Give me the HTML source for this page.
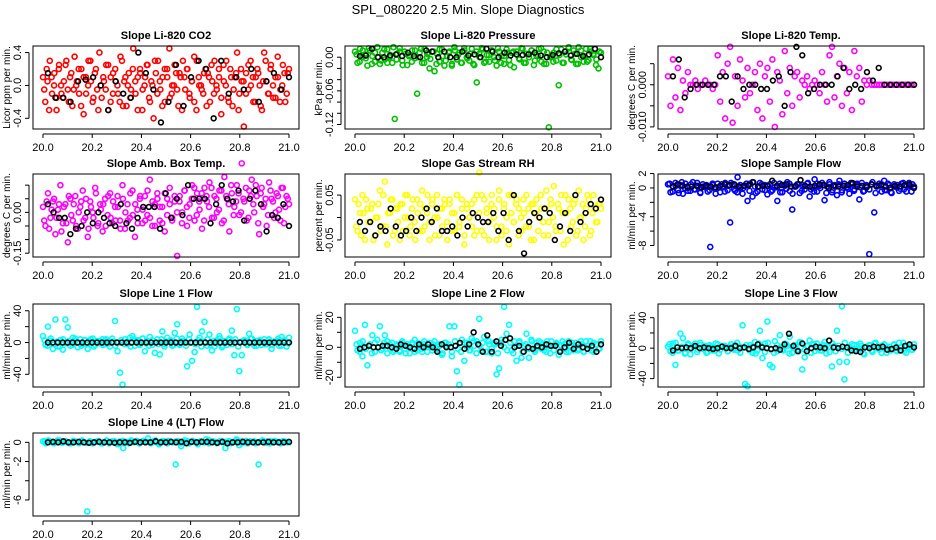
<!DOCTYPE html>
<html><head><meta charset="utf-8"><style>
body{margin:0;background:#fff}
svg{display:block;font-family:"Liberation Sans",Arial,sans-serif}
</style></head><body>
<svg id="chart" width="936" height="540" viewBox="0 0 936 540" xmlns="http://www.w3.org/2000/svg">
<text x="468" y="14" text-anchor="middle" font-size="13">SPL_080220  2.5 Min. Slope Diagnostics</text>
</svg>
<script>
const xTicks = [20.0, 20.2, 20.4, 20.6, 20.8, 21.0];
const xTickLabels = ["20.0", "20.2", "20.4", "20.6", "20.8", "21.0"];

const co2Vals = [0.1,-0.2,0.05,0.3,-0.1,0.15,-0.3,0.2,0,-0.15,0.25,-0.05,0.1,-0.25,0.35,0.05,-0.1,0.2,-0.35,0.1,0.0,0.3,-0.2,0.15,-0.05,0.4,-0.15,0.05,0.25,-0.3,0.1,-0.1,0.2,0.0,-0.2,0.3,0.05,-0.25,0.15,-0.05,0.45,-0.1,0.1,0.2,-0.3,0.0,0.25,-0.15,0.05,-0.4,0.15,0.3,-0.05,0.1,-0.2,0.2,0.45,-0.1,0.0,0.15,-0.25,0.1,0.3,-0.05,0.2,-0.15,0.05,0.35,-0.3,0.1,0.0,-0.1,0.2,0.15,-0.2,0.05,0.3,-0.05,0.1,-0.35,0.25,0.0,-0.15,0.2,-0.25,0.1,0.4,-0.1,0.05,-0.5,0.15,-0.05,0.3,0.1,-0.2,0.2,0.0,-0.3,0.4,0.05,-0.1,0.25,-0.15,0.1,0.35,-0.2,0.0,0.15,-0.1,0.2];
const co2Vals2 = [-0.05,0.2,-0.3,0.1,0.0,-0.15,0.25,-0.1,0.05,0.3,-0.2,0.15,-0.05,0.0,0.2,-0.25,0.1,-0.1,0.3,0.05,-0.15,0.2,-0.3,0.0,0.1,-0.05,0.25,-0.2,0.15,0.05,-0.1,0.35,-0.25,0.1,0.0,-0.15,0.2,0.05,-0.3,0.15,-0.05,0.1,0.25,-0.2,0.0,0.3,-0.1,0.05,-0.25,0.2,0.1,-0.15,0.0,0.25,-0.05,0.15,-0.3,0.1,0.2,-0.1,0.05,-0.2,0.3,0.0,-0.05,0.15,-0.25,0.1,0.25,-0.1,0.0,0.2,-0.15,0.05,0.3,-0.2,0.1,-0.05,0.15,-0.3,0.2,0.05,-0.1,0.25,0.0,-0.2,0.1,0.15,-0.25,0.05,0.3,-0.1,0.2,0.0,-0.15,0.1,-0.05,0.25,-0.2,0.15];
const co2Black = [0.15,-0.15,-0.15,-0.2,0.05,0.07,0.1,0.0,-0.3,0.05,-0.1,-0.15,0.4,0.15,-0.05,-0.45,-0.2,0.25,-0.25,0.1,0.3,0.2,-0.4,0.3,-0.1,0.1,-0.05,0.2,-0.2,0.05,0.15,-0.05,0.1];
const co2Ticks = [-0.4, 0.0, 0.4];
const co2TickLabels = ["-0.4", "0.0", "0.4"];

const presVals = [0.01,-0.01,0.015,0.0,0.005,-0.015,0.012,0.002,-0.008,0.018,-0.012,0.008,-0.004,0.014,0.0,-0.01,-0.11,0.006,0.016,-0.006,0.01,-0.014,0.004,0.012,-0.002,-0.065,0.008,-0.01,0.015,0.0,-0.02,0.01,-0.025,0.006,-0.008,0.014,-0.015,0.002,0.01,-0.012,0.018,-0.004,0.008,-0.01,0.012,0.0,-0.006,0.015,-0.014,-0.045,0.006,0.016,-0.01,0.004,-0.008,0.012,0.0,-0.015,0.01,0.002,-0.012,0.014,-0.005,0.008,-0.018,0.01,-0.002,0.016,-0.01,0.006,0.0,0.012,-0.014,0.004,0.015,-0.008,0.01,-0.012,-0.125,0.002,0.008,-0.006,-0.05,0.014,-0.01,0.005,0.016,-0.004,0.012,-0.012,0.018,0.0,-0.008,0.015,-0.005,0.01,0.006,-0.014,-0.02,0.008];
const presVals2 = [0.005,-0.008,0.012,-0.002,0.016,-0.012,0.008,0.0,-0.006,0.014,-0.01,0.004,0.018,-0.004,0.01,-0.014,0.006,0.002,-0.008,0.012,0.0,0.015,-0.01,0.006,-0.003,0.01,-0.012,0.014,0.002,-0.006,0.008,-0.015,0.012,0.004,-0.01,0.016,-0.002,0.006,-0.012,0.01,0.0,0.014,-0.008,0.004,0.012,-0.006,0.016,-0.01,0.002,0.008,-0.014,0.01,0.005,-0.004,0.015,-0.01,0.006,0.012,-0.006,0.002,0.016,-0.012,0.008,0.0,-0.008,0.014,0.004,-0.01,0.01,0.018,-0.005,0.006,-0.012,0.012,0.002,-0.008,0.015,0.004,-0.004,0.01];
const presBlack = [0.002,0.003,0.015,0.0,0.0,0.003,0.005,0.002,0.008,0.002,0.0,0.012,0.01,0.0,0.01,0.0,0.0,0.01,0.003,0.005,0.0,0.015,0.01,0.0,0.008,0.003,0.005,0.004,0.005,0.008,0.003,0.0,0.004,0.007,0.01,0.003,0.006,0.002,0.005,0.015,0.0];
const presTicks = [0.0, -0.02, -0.04, -0.06, -0.08, -0.10, -0.12];
const presTickLabels = ["0.00", "", "", "-0.06", "", "", "-0.12"];

const tempVals = [0.002,-0.005,0.006,-0.003,0.004,-0.006,0.001,-0.002,0.003,0,0.0,0.001,-0.001,0.0,0.0,0.001,0.0,0.0,-0.001,0.0,0.007,-0.004,0.003,-0.008,0.005,0.009,-0.009,0.002,-0.005,0.006,0.001,-0.003,0.004,-0.002,0.0,0.003,-0.006,0.005,-0.008,0.002,0.004,-0.004,0.006,-0.01,0.003,0.001,-0.007,0.008,-0.002,0.004,-0.005,0.002,0.003,-0.003,0.001,0.0,0.002,-0.001,0.0,0.001,0.0,-0.002,0.003,0.0,-0.004,0.007,0.009,-0.003,0.002,0.005,-0.005,0.004,-0.002,0.003,-0.006,0.008,0.002,0.004,-0.004,0.001,0.0,0.001,0.0,0.0,0.0,0.0,0,0,0,0,0,0,0,0,0,0,0,0,0,0];
const tempVals2 = [];
const tempBlack = [0.002,0.006,-0.003,-0.001,0,0,0,0,0.002,0.002,-0.004,0.002,-0.001,0,0,-0.001,-0.001,0.001,0.002,-0.005,0.003,0.009,0.007,-0.002,-0.001,0,0,0,0.002,0.004,-0.001,0,-0.001,0.003,0.001,0.004,0,0,0,0,0,0];
const tempTicks = [0.005, 0.0, -0.005, -0.010];
const tempTickLabels = ["", "0.000", "", "-0.010"];

const ambVals = [0.02,-0.05,0.07,-0.02,0.04,-0.08,0.01,0.1,-0.04,0.03,-0.11,0.05,-0.03,0.06,-0.06,0.02,0.08,-0.02,-0.09,0.04,0.0,0.09,-0.05,0.03,-0.07,0.05,-0.01,0.07,-0.04,0.02,0.06,-0.03,0.1,-0.06,0.03,-0.02,0.08,-0.09,0.01,0.05,-0.04,0.06,-0.01,0.12,-0.05,0.03,0.07,-0.03,0.02,-0.07,0.05,0.09,-0.02,0.04,-0.16,0.06,0.0,0.08,-0.05,0.03,0.1,-0.03,0.07,0.01,-0.06,0.09,0.04,0.11,-0.02,0.06,0.0,0.08,-0.04,0.13,0.05,-0.07,0.07,0.02,0.1,-0.01,0.18,0.04,-0.03,0.08,0.12,0.0,0.06,-0.08,0.09,0.03,-0.05,0.11,0.05,-0.02,0.07,0.01,0.09,-0.04,0.06,0.03];
const ambVals2 = [-0.03,0.04,-0.06,0.01,0.05,-0.02,0.03,-0.07,0.02,-0.04,0.06,-0.01,0.03,-0.05,0.0,0.04,-0.03,0.05,-0.06,0.02,-0.02,0.07,-0.04,0.01,0.03,-0.05,0.06,-0.02,0.04,-0.03,0.02,-0.06,0.05,0.0,-0.03,0.07,-0.01,0.03,-0.04,0.06,0.01,-0.03,0.08,-0.02,0.04,-0.05,0.05,0.02,-0.04,0.07,-0.01,0.03,-0.03,0.06,0.0,0.04,-0.04,0.08,0.02,-0.02,0.05,0.09,-0.01,0.04,0.07,-0.03,0.06,0.02,0.09,-0.02,0.05,0.01,0.08,-0.03,0.06,0.03,0.1,-0.01,0.04,0.07,0.0,0.05,0.09,-0.02,0.06,0.03,0.1,-0.04,0.07,0.02,0.05,-0.01,0.08,0.04,0.0,0.06,-0.03,0.09,0.02,0.05];
const ambBlack = [0.03,0.0,-0.02,-0.02,-0.08,-0.06,-0.05,0.0,-0.04,0.0,-0.02,-0.04,-0.05,0.03,-0.04,-0.06,-0.02,0.02,0.02,0.02,-0.06,0.07,-0.02,0.05,-0.01,0.1,0.05,0.05,0.05,-0.04,0.03,0.1,0.05,0.04,0.08,-0.03,0.05,0.08,0.03,-0.07,-0.01,-0.02,0.03,-0.05];
const ambTicks = [0.10, 0.05, 0.0, -0.05, -0.10, -0.15];
const ambTickLabels = ["", "", "0.00", "", "", "-0.15"];

const rhVals = [0.04,-0.03,0.01,0.05,-0.05,0.02,-0.01,0.03,-0.04,0.0,0.06,-0.02,0.08,-0.06,0.01,0.04,-0.03,0.02,-0.05,0.03,0.0,0.05,-0.04,0.02,-0.01,0.04,-0.03,0.06,-0.02,0.01,-0.05,0.03,0.0,0.05,-0.04,0.02,0.04,-0.01,0.03,-0.03,0.01,0.05,-0.02,0.04,-0.06,0.02,0.0,0.03,-0.04,0.05,0.1,-0.03,0.04,0.01,-0.05,0.05,0.02,-0.02,0.06,-0.04,0.03,0.0,-0.06,0.05,-0.01,0.04,0.02,-0.03,0.01,0.05,-0.02,0.03,-0.05,0.04,0.0,0.02,-0.04,0.06,-0.01,0.03,0.07,-0.03,0.02,0.05,-0.06,0.01,0.04,-0.02,0.03,-0.04,0.06,0.0,-0.05,0.02,0.04,-0.03,0.05,-0.01,0.03,0.02];
const rhVals2 = [-0.02,0.03,-0.04,0.01,0.04,-0.01,0.02,-0.05,0.0,0.03,-0.03,0.05,-0.02,0.01,0.04,-0.04,0.02,-0.01,0.03,-0.03,0.05,0.0,-0.02,0.04,-0.05,0.01,0.03,-0.03,0.02,0.05,-0.01,0.04,-0.04,0.0,0.02,-0.02,0.03,-0.05,0.04,0.01,-0.03,0.05,-0.01,0.02,-0.04,0.03,0.0,-0.02,0.04,-0.03,0.01,0.05,-0.04,0.02,-0.01,0.03,0.0,-0.05,0.04,-0.02,0.02,-0.03,0.05,0.01,-0.01,0.03,-0.04,0.0,0.04,-0.02,0.02,-0.05,0.03,0.01,-0.03,0.05,-0.01,0.02,-0.04,0.04,0.0,-0.02,0.03,-0.03,0.01,0.05,-0.05,0.02,-0.01,0.04,-0.03,0.0,0.03,-0.02,0.05,-0.04,0.01,0.02,-0.01,0.03];
const rhBlack = [-0.01,-0.03,-0.01,-0.04,-0.02,-0.03,0.02,-0.02,-0.04,-0.03,0.0,-0.03,0.0,0.02,-0.01,0.02,-0.03,-0.03,-0.02,-0.04,0.0,-0.02,0.01,0.0,-0.01,-0.01,0.01,-0.03,0.01,-0.05,0.05,-0.03,-0.08,-0.01,0.01,0.0,0.02,0.01,-0.05,-0.02,0.01,-0.03,0.05,-0.01,0.01,0.03,0.02,0.04];
const rhTicks = [0.05, 0.0, -0.05];
const rhTickLabels = ["0.05", "", "-0.05"];

const flowVals = [0.5,-0.6,0.2,0.7,-0.3,0.4,-0.8,0.6,0.0,-0.4,0.8,-0.2,0.3,-0.7,0.5,0.1,-0.5,-8.2,0.4,-0.1,0.6,-0.6,0.2,0.7,-0.3,-4.8,0.5,-0.4,1.5,0.0,-0.8,0.3,-1.8,0.6,-1.2,0.2,-0.5,0.7,-0.2,0.4,-0.9,0.5,-0.3,0.1,-1.8,0.6,-0.6,0.3,0.8,-0.4,-3.0,0.2,0.5,-0.7,0.4,-0.2,0.6,-1.2,0.1,1.2,-0.5,0.3,0.7,-1.7,0.2,0.5,-0.6,0.4,-1.0,1.0,-0.3,0.6,0.1,-0.8,0.5,-0.2,0.4,-1.6,0.7,-0.4,0.3,-9.2,0.5,-3.4,0.2,0.6,-0.5,1.0,-0.3,0.4,-0.7,0.5,0.1,-0.4,0.6,-0.2,0.3,0.7,-0.5,0.2];
const flowVals2 = [0.6,-0.5,0.3,-0.7,0.8,0.0,-0.4,0.5,-0.2,0.7,-0.6,0.2,0.4,-0.3,0.6,-0.8,0.1,0.5,-0.5,0.3,0.7,-0.2,-0.6,0.4,0.0,0.6,-0.4,0.8,-0.7,0.2,0.5,-0.3,0.3,-0.5,0.7,0.1,-0.6,0.4,-0.1,0.6,-0.8,0.2,0.5,-0.4,0.3,0.7,-0.2,-0.5,0.6,0.0,0.4,-0.7,0.8,-0.3,0.2,0.5,-0.6,0.3,-0.1,0.7,-0.4,0.6,0.1,-0.5,0.4,-0.2,0.8,-0.7,0.3,0.5,-0.3,0.6,-0.6,0.2,0.4,-0.1,0.7,-0.5,0.3,0.5];
const flowBlack = [0.2,0.5,0.3,0.2,0.2,0.3,0.1,0.3,0.2,0.1,0.3,0.5,0.4,0.5,0.2,0.3,0.4,0.8,0.2,0.3,0.3,1.0,0.3,0.4,0.5,0.2,0.3,1.1,0.3,0.2,0.3,0.5,0.4,0.0,0.3,0.2,0.3,0.4,0.7,0.2,0.3,0.1,0.5,0.3,0.4,0.2,0.0,0.3,0.2,0.4,0.5,0.0];
const flowTicks = [2, 0, -2, -4, -6, -8];
const flowTickLabels = ["2", "0", "", "-4", "", "-8"];

const line1Vals = [8,-3,20,2,-8,29,-5,3,-9,29,19,-4,6,2,-6,4,-2,3,-8,1,5,-3,2,-1,4,-2,3,-5,1,27,-11,-38,-53,4,-2,6,8,-4,3,-1,5,-11,2,7,-3,-13,4,-15,14,-2,6,2,-4,12,23,-3,5,1,-30,10,-23,-12,45,6,14,26,-4,10,-10,-5,3,8,-6,2,-3,5,15,-16,42,-36,-16,3,-2,11,5,-4,2,1,-3,4,-2,3,-8,1,2,-4,7,3,-5,6];
const line1Vals2 = [3,-4,5,-2,1,-5,4,-1,2,-3,5,0,-4,3,-2,4,-5,1,2,-3,4,-1,5,-4,0,3,-2,1,-5,4,2,-3,5,-1,-4,3,0,-2,4,-5,1,3,-3,5,-1,2,-4,4,0,-2,3,-5,1,4,-3,2,-1,5,-4,0,3,-2,4,-5,1,2,-3,5,-1,-4,3,0,-2,4,-3,1,5,-4,2,-1];
const line1Black = [0,0,0,0,0,0,0,0,0,0,0,0,0,0,0,0,0,0,0,0,0,0,0,0,0,0,0,0,0,0,0,0,0,0,0,0,0,0,0,0,0,0,0,0,0,0,0,0,0,0];
const line1Ticks = [40, 20, 0, -20, -40];
const line1TickLabels = ["40", "", "0", "", "-40"];

const line2Vals = [11,-2,3,-6,15,-12,2,8,-3,5,14,-1,8,-4,2,3,-2,1,-3,4,-1,2,-4,3,5,-2,1,-3,2,0,3,-2,4,-1,2,-5,3,1,14,-6,14,-16,-25,5,-9,3,-2,6,1,4,19,-2,7,-3,2,-4,3,-18,-14,5,27,9,15,-2,4,-9,3,-7,1,9,-7,5,-2,3,4,-1,2,-3,1,4,-2,3,-5,1,2,-3,4,1,-2,3,-1,2,-3,4,1,-2,3,2,-1,4];
const line2Vals2 = [2,-3,4,-1,1,-4,3,0,-2,3,4,-1,-3,2,-2,3,-4,1,2,-3,3,-1,4,-3,0,2,-2,1,-4,3,2,-3,4,-1,-3,3,0,-2,4,-4,1,3,-3,4,-1,2,-4,3,0,-2,3,-4,1,4,-3,2,-1,4,-3,0,3,-2,4,-4,1,2,-3,4,-1,-3,3,0,-2,4,-3,1,4,-3,2,-1];
const line2Black = [-1,0,1,0,0,1,1,0,-1,2,1,0,-1,2,0,2,0,-3,2,0,0,1,3,-1,2,10,2,-3,8,-3,4,1,5,6,0,1,-3,0,-1,1,0,2,1,1,-3,0,3,-1,2,0,-1,1,-3,2];
const line2Ticks = [20, 10, 0, -10, -20];
const line2TickLabels = ["20", "", "0", "", "-20"];

const line3Vals = [2,-4,6,-22,-3,19,13,-6,4,-8,3,6,-2,4,-1,3,-5,2,1,-3,5,-2,3,1,-4,2,-1,4,-3,2,30,-47,-50,4,-6,8,-3,23,-13,6,35,-22,-25,9,-4,17,-2,6,3,15,-6,4,-2,8,-28,-12,3,10,5,-4,6,2,-3,8,4,-5,-24,3,23,-18,55,-41,-18,2,5,-3,4,-1,3,-8,2,4,-3,6,1,-2,3,5,-6,2,-1,4,-3,7,2,-4,3,1,-2,5];
const line3Vals2 = [5,-6,7,-3,2,-7,6,-1,3,-5,7,0,-6,4,-3,6,-7,2,3,-4,5,-2,7,-6,1,4,-3,2,-7,6,3,-5,7,-2,-6,4,1,-3,5,-7,2,4,-4,7,-2,3,-6,5,0,-3,4,-7,2,6,-4,3,-1,7,-6,0,4,-3,6,-7,2,3,-5,7,-1,-6,4,0,-3,5,-4,1,7,-6,3,-2];
const line3Black = [-3,1,0,1,0,3,0,1,0,-1,0,2,0,0,3,0,1,-1,1,5,1,0,-1,0,-2,5,19,3,-4,6,-4,0,2,1,0,10,1,0,2,1,-3,-4,-5,1,0,2,1,2,-2,-1,1,-3,3,5,1];
const line3Ticks = [40, 20, 0, -20, -40];
const line3TickLabels = ["40", "", "0", "", "-40"];

const line4Vals = [0.1,-0.1,0.2,0.0,-0.1,0.1,0.2,-0.05,0.1,0.0,-0.1,0.15,0.05,-0.1,0.1,0.0,-7.2,0.1,-0.1,0.05,0.1,-0.1,0.0,0.15,-0.1,0.1,0.0,-0.2,0.1,-0.6,0.05,-0.1,0.1,0.0,0.15,-0.1,0.1,0.05,0.4,-0.1,0.1,0.0,-0.2,0.1,0.05,-0.1,0.1,0.0,-2.3,0.1,-0.4,0.0,0.15,-0.1,0.1,0.05,-0.2,0.1,0.0,0.3,-0.1,0.1,0.05,-0.1,0.1,0.0,-0.6,0.1,-0.1,0.05,0.3,-0.3,0.1,0.0,-0.1,0.1,0.05,-0.1,-2.3,0.1,0.0,0.1,-0.1,0.05,0.1,0.0,-0.1,0.1,0.05,0.0];
const line4Vals2 = [0.1,0.15,-0.05,0.2,0.0,0.1,-0.1,0.15,0.05,0.2,-0.05,0.1,0.0,0.15,-0.1,0.2,0.05,0.1,-0.05,0.15,0.0,0.2,0.1,-0.1,0.15,0.05,0.0,0.2,-0.05,0.1,0.15,0.0,0.1,-0.1,0.2,0.05,0.15,-0.05,0.1,0.0,0.2,0.1,-0.05,0.15,0.05,0.1,0.0,0.2,-0.1,0.15,0.05,0.1,0.0,0.2,-0.05,0.1,0.15,0.05,0.1,0.0];
const line4Black = [0,0.05,0,0.1,0,0,0.05,0,-0.05,0,0.05,0,0,-0.05,0,0,-0.05,0.05,0,0,0,0.1,0,0,0.05,0,0.05,-0.1,0.05,0,0.05,0.05,0,-0.05,0.05,-0.1,0,0,0.05,0,0,0,0,0.05,0,0,0,0.05];
const line4Ticks = [0, -2, -4, -6];
const line4TickLabels = ["0", "-2", "", "-6"];

const NS = "http://www.w3.org/2000/svg";
const svg = document.getElementById("chart");
function mk(tag, attrs, parent) {
  const e = document.createElementNS(NS, tag);
  for (const k in attrs) e.setAttribute(k, attrs[k]);
  (parent || svg).appendChild(e);
  return e;
}

const colX = [33, 345, 658];
const rowY = [46, 174, 304, 433];
const W = 266, H = 83;

const panels = [
  {key:"co2", title:"Slope Li-820 CO2", ylab:"Licor ppm per min.", col:0, row:0, ymin:-0.53, ymax:0.48, vals:co2Vals, vals2:co2Vals2, black:co2Black, ticks:co2Ticks, labels:co2TickLabels, color:"#ff0000"},
  {key:"pressure", title:"Slope Li-820 Pressure", ylab:"kPa per min.", col:1, row:0, ymin:-0.128, ymax:0.020, vals:presVals, vals2:presVals2, black:presBlack, ticks:presTicks, labels:presTickLabels, color:"#00c000"},
  {key:"li820-temp", title:"Slope Li-820 Temp.", ylab:"degrees C per min.", col:2, row:0, ymin:-0.0105, ymax:0.0092, vals:tempVals, vals2:tempVals2, black:tempBlack, ticks:tempTicks, labels:tempTickLabels, color:"#ff00ff"},
  {key:"amb-box-temp", title:"Slope Amb. Box Temp.", ylab:"degrees C per min.", col:0, row:1, ymin:-0.164, ymax:0.141, vals:ambVals, vals2:ambVals2, black:ambBlack, ticks:ambTicks, labels:ambTickLabels, color:"#ff00ff"},
  {key:"gas-stream-rh", title:"Slope Gas Stream RH", ylab:"percent per min.", col:1, row:1, ymin:-0.088, ymax:0.097, vals:rhVals, vals2:rhVals2, black:rhBlack, ticks:rhTicks, labels:rhTickLabels, color:"#ffff00"},
  {key:"sample-flow", title:"Slope Sample Flow", ylab:"ml/min per min.", col:2, row:1, ymin:-9.6, ymax:1.94, vals:flowVals, vals2:flowVals2, black:flowBlack, ticks:flowTicks, labels:flowTickLabels, color:"#0000ff"},
  {key:"line1-flow", title:"Slope Line 1 Flow", ylab:"ml/min per min.", col:0, row:2, ymin:-56, ymax:48.5, vals:line1Vals, vals2:line1Vals2, black:line1Black, ticks:line1Ticks, labels:line1TickLabels, color:"#00ffff"},
  {key:"line2-flow", title:"Slope Line 2 Flow", ylab:"ml/min per min.", col:1, row:2, ymin:-26.5, ymax:28.9, vals:line2Vals, vals2:line2Vals2, black:line2Black, ticks:line2Ticks, labels:line2TickLabels, color:"#00ffff"},
  {key:"line3-flow", title:"Slope Line 3 Flow", ylab:"ml/min per min.", col:2, row:2, ymin:-51, ymax:58, vals:line3Vals, vals2:line3Vals2, black:line3Black, ticks:line3Ticks, labels:line3TickLabels, color:"#00ffff"},
  {key:"line4-flow", title:"Slope Line 4 (LT) Flow", ylab:"ml/min per min.", col:0, row:3, ymin:-7.67, ymax:0.97, vals:line4Vals, vals2:line4Vals2, black:line4Black, ticks:line4Ticks, labels:line4TickLabels, color:"#00ffff"}
];

panels.forEach(p => {
  const L = colX[p.col], T = rowY[p.row];
  const xS = v => L + 10 + (v - 20) / 1 * (W - 20);
  const yS = v => T + (p.ymax - v) / (p.ymax - p.ymin) * H;
  const g = mk("g", {});
  
  

  const t = mk("text", {x: L + W/2, y: T - 7, "text-anchor":"middle", "font-size":"11", "font-weight":"bold"}, g);
  t.textContent = p.title;
  
  

  const pts = mk("g", {fill:"none", "stroke-width":"1.6"}, g);
  
  
  const n = p.vals.length;
  p.vals.forEach((v, i) => {
    const c = mk("circle", {cx: xS(20 + i/(n-1)), cy: yS(v), r: 2.5, stroke: p.color}, pts);
    
    
  });
  const n2 = p.vals2.length;
  p.vals2.forEach((v, i) => {
    const c = mk("circle", {cx: xS(20 + (i+0.5)/n2), cy: yS(v), r: 2.5, stroke: p.color}, pts);
    
    
  });
  const nb = p.black.length;
  p.black.forEach((v, i) => {
    const c = mk("circle", {cx: xS(20.02 + 0.98*i/(nb-1)), cy: yS(v), r: 2.4, stroke: "#000"}, pts);
    
    
  });

  const box = mk("rect", {x: L, y: T, width: W, height: H, fill:"none", stroke:"#000", "stroke-width":"1"}, g);
  
  

  const xa = mk("g", {}, g);
  
  
  mk("line", {x1: xS(20), x2: xS(21), y1: T+H+5, y2: T+H+5, stroke:"#000"}, xa);
  xTicks.forEach((v, i) => {
    mk("line", {x1: xS(v), x2: xS(v), y1: T+H+5, y2: T+H+9, stroke:"#000"}, xa);
    const lt = mk("text", {x: xS(v), y: T+H+22, "text-anchor":"middle", "font-size":"11"}, xa);
    lt.textContent = xTickLabels[i];
    
    
  });

  const ya = mk("g", {}, g);
  
  
  const ax = L - 4;
  mk("line", {x1: ax, x2: ax, y1: yS(p.ticks[0]), y2: yS(p.ticks[p.ticks.length-1]), stroke:"#000"}, ya);
  p.ticks.forEach((v, i) => {
    mk("line", {x1: ax-4, x2: ax, y1: yS(v), y2: yS(v), stroke:"#000"}, ya);
    if (p.labels[i]) {
      const lt = mk("text", {x: 0, y: 0, "text-anchor":"middle", "font-size":"11", transform:`translate(${ax-8},${yS(v)}) rotate(-90)`}, ya);
      lt.textContent = p.labels[i];
      
      
    }
  });
  const yl = mk("text", {x: 0, y: 0, "text-anchor":"middle", "font-size":"10", transform:`translate(${L-23},${T+H/2}) rotate(-90)`}, g);
  yl.textContent = p.ylab;
  
  
});
</script>
</body></html>
